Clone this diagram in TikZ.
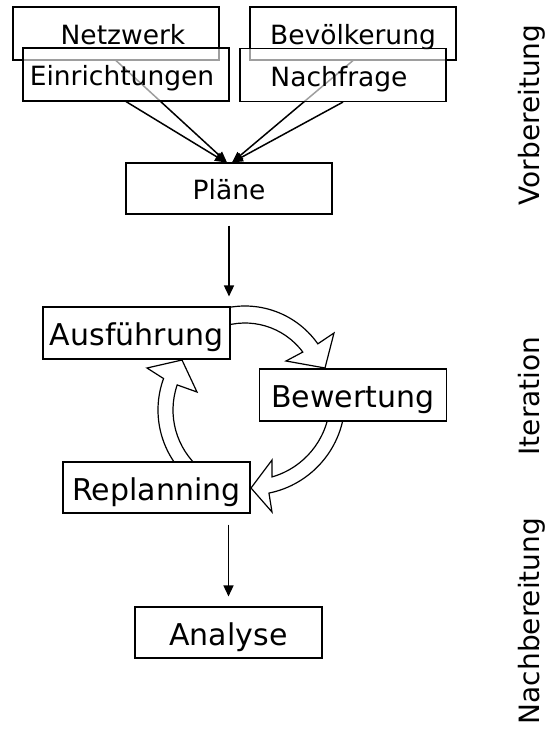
\documentclass[tikz,border=0pt]{standalone}
\usepackage{fontspec}
\setmainfont{DejaVu Sans}
\usetikzlibrary{arrows.meta}
\pgfdeclarelayer{back}
\pgfsetlayers{back,main}

\begin{document}
\begin{tikzpicture}[x=1pt,y=1pt,
  box/.style={draw, line width=1.1pt, inner sep=0pt, text height=22.3pt, text depth=0pt,
    font=\fontsize{26.5}{30}\selectfont},
  topbox/.style={box, minimum width=206pt, minimum height=53pt},
  veilbox/.style={topbox, fill=white, fill opacity=0.62, text opacity=1},
  bigbox/.style={box, minimum width=187pt, minimum height=52pt, text height=25.2pt,
    font=\fontsize{30}{34}\selectfont},
  cyclebox/.style={bigbox, fill=white},
  feed/.style={line width=1.5pt, -{Triangle[length=11pt,width=9pt]}},
  flow/.style={line width=1.5pt, -{Triangle[length=11pt,width=10pt]},
    shorten <=11pt, shorten >=10pt},
  openarrow/.style={draw, line width=1.2pt, fill=white, line join=miter},
  phase/.style={rotate=90, anchor=base, font=\fontsize{28}{32}\selectfont}
]
\useasboundingbox (0,0) rectangle (545,-729);

% input data
\node[topbox] (netz) at (116,-33.5) {\hspace*{14pt}Netzwerk};
\node[topbox] (bev) at (353,-33.5) {Bevölkerung};
\node[veilbox] (ein) at (126,-74.5) {Einrichtungen\hspace*{8pt}};
\node[veilbox] (nach) at (343,-75) {Nachfrage\hspace*{8pt}};
\node[box, minimum width=206pt, minimum height=51pt] (plan) at (229,-188.5) {Pläne};

\begin{pgfonlayer}{back}
  \draw[feed] (netz.south) -- ([xshift=-2pt]plan.north);
  \draw[feed] (bev.south) -- ([xshift=3pt]plan.north);
\end{pgfonlayer}
\draw[feed] (ein.south) -- ([xshift=-3pt]plan.north);
\draw[feed] (nach.south) -- ([xshift=3pt]plan.north);

% simulation loop
\node[cyclebox] (ausf) at (136.5,-333) {Ausführung};
\node[cyclebox] (bew) at (353,-395) {Bewertung};
\node[cyclebox, minimum height=51pt] (repl) at (156.5,-487.5) {Replanning};
\node[bigbox, minimum height=51pt] (ana) at (228.5,-632.5) {Analyse};

\begin{pgfonlayer}{back}
  \begin{scope}[shift={(245,-395)}]
    \path[openarrow] (110:89pt) arc[start angle=110, end angle=35.1, radius=89pt]
      -- (89,62) -- (80,27) -- (41,34)
      -- (36.6:72pt) arc[start angle=36.6, end angle=110, radius=72pt] -- cycle;
  \end{scope}
  \begin{scope}[shift={(250,-400)}]
    \path[openarrow] (-5:95pt) arc[start angle=-5, end angle=-78.5, radius=95pt]
      -- (22,-112) -- (1,-88) -- (22,-60)
      -- (-74:80pt) arc[start angle=-74, end angle=-5, radius=80pt] -- cycle;
  \end{scope}
  \begin{scope}[shift={(250,-410)}]
    \path[openarrow] (230:92pt) arc[start angle=230, end angle=160, radius=92pt]
      -- (-103,42) -- (-68,50) -- (-53,18)
      -- (161:77pt) arc[start angle=161, end angle=230, radius=77pt] -- cycle;
  \end{scope}
\end{pgfonlayer}

\draw[flow] (plan.south) -- (plan.south |- ausf.north);
\draw[flow] (ana.north |- repl.south) -- (ana.north);

% phase labels
\node[phase] (prep) at (539,-115) {Vorbereitung};
\node[phase] (iter) at (539,-396) {Iteration};
\node[phase] (post) at (539,-621) {Nachbereitung};
\end{tikzpicture}
\end{document}
